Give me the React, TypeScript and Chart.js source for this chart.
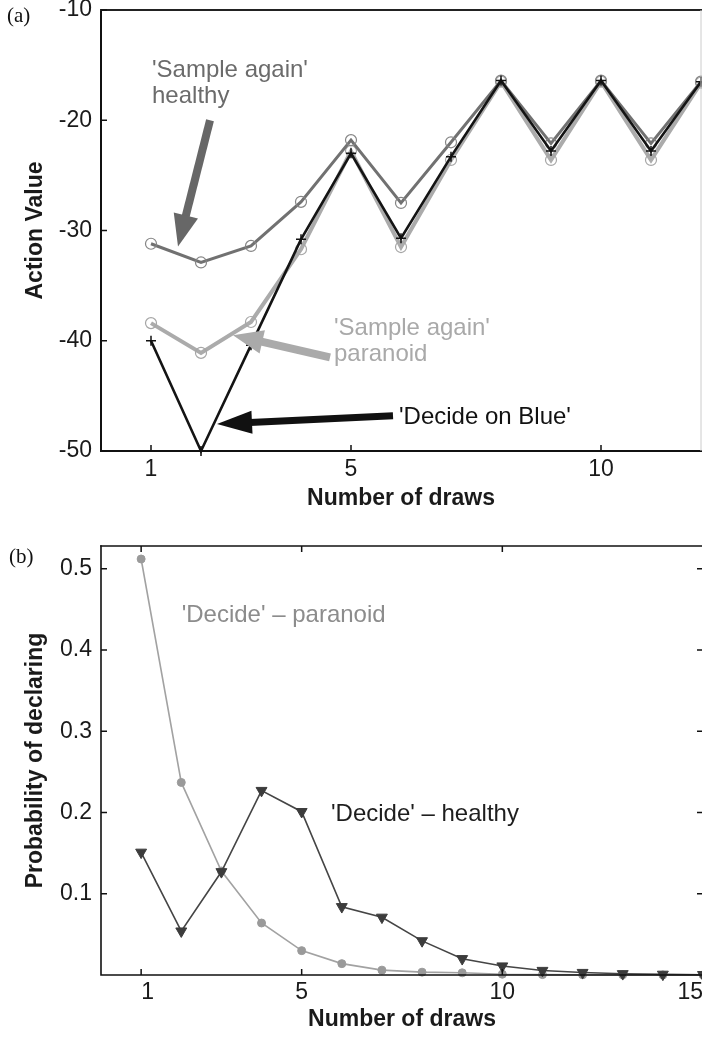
import React, { useEffect, useRef } from 'react';
import { Chart, registerables } from 'chart.js';

Chart.register(...registerables);

const FONT = '"Liberation Sans", Arial, Helvetica, sans-serif';

// ---------- Panel (a): action values ----------
const drawsA = [1, 2, 3, 4, 5, 6, 7, 8, 9, 10, 11, 12];
const sampleAgainHealthy = [-31.2, -32.9, -31.4, -27.4, -21.8, -27.5, -22.0, -16.4, -22.1, -16.4, -22.1, -16.5];
const sampleAgainParanoid = [-38.4, -41.1, -38.3, -31.7, -22.8, -31.5, -23.6, -16.5, -23.6, -16.5, -23.6, -16.6];
const decideOnBlue = [-40.0, -50.0, -40.4, -30.8, -23.0, -30.7, -23.3, -16.4, -22.8, -16.4, -22.8, -16.5];
const xTicksA = [1, 5, 10];
const yTicksA = [-10, -20, -30, -40, -50];

// ---------- Panel (b): probability of declaring ----------
const drawsB = [1, 2, 3, 4, 5, 6, 7, 8, 9, 10, 11, 12, 13, 14, 15];
const decideParanoid = [0.512, 0.237, 0.128, 0.064, 0.030, 0.014, 0.006, 0.0035, 0.0027, 0.001, 0.0005, 0.0003, 0.0002, 0.0001, 0.0001];
const decideHealthy = [0.151, 0.054, 0.127, 0.227, 0.201, 0.084, 0.071, 0.042, 0.020, 0.011, 0.0055, 0.003, 0.0015, 0.0008, 0.0004];
const xTicksB = [1, 5, 10, 15];
const yTicksB = [0.1, 0.2, 0.3, 0.4, 0.5];

// ---------- Annotations (data coordinates) ----------
type Txt = { lines: string[]; at: [number, number]; color: string };
type Arr = { from: [number, number]; to: [number, number]; color: string; width: number; head: number; headW: number };

const textsA: Txt[] = [
  { lines: ["'Sample again'", 'healthy'], at: [1.02, -16.1], color: '#6b6b6b' },
  { lines: ["'Sample again'", 'paranoid'], at: [4.66, -39.45], color: '#a9a9a9' },
  { lines: ["'Decide on Blue'"], at: [5.96, -47.55], color: '#111111' },
];
const arrowsA: Arr[] = [
  { from: [2.18, -20.0], to: [1.54, -31.45], color: '#676767', width: 8, head: 32, headW: 25 },
  { from: [4.58, -41.5], to: [2.64, -39.5], color: '#aaaaaa', width: 8, head: 30, headW: 24 },
  { from: [5.84, -46.8], to: [2.32, -47.55], color: '#111111', width: 7, head: 35, headW: 23 },
];
const textsB: Txt[] = [
  { lines: ["'Decide' \u2013 paranoid"], at: [2.01, 0.435], color: '#8c8c8c' },
  { lines: ["'Decide' \u2013 healthy"], at: [5.73, 0.189], color: '#1e1e1e' },
];

type FrameOpts = {
  xTicks: number[];
  yTicks: number[];
  topTicks: boolean;
  rightTicks: boolean;
  topColor: string;
  rightColor: string;
  rightWidth: number;
  lw: number;
  texts: Txt[];
  arrows: Arr[];
};

function framePlugin(o: FrameOpts) {
  return {
    id: 'frame',
    afterDatasetsDraw(chart: any) {
      const { ctx, chartArea: a, scales } = chart;
      const xs = scales.x;
      const ys = scales.y;
      ctx.save();
      // arrows
      for (const ar of o.arrows) {
        const x0 = xs.getPixelForValue(ar.from[0]);
        const y0 = ys.getPixelForValue(ar.from[1]);
        const x1 = xs.getPixelForValue(ar.to[0]);
        const y1 = ys.getPixelForValue(ar.to[1]);
        const dx = x1 - x0, dy = y1 - y0;
        const len = Math.hypot(dx, dy);
        const ux = dx / len, uy = dy / len;
        const bx = x1 - ux * ar.head, by = y1 - uy * ar.head;
        ctx.strokeStyle = ar.color;
        ctx.lineWidth = ar.width;
        ctx.lineCap = 'butt';
        ctx.beginPath();
        ctx.moveTo(x0, y0);
        ctx.lineTo(bx + ux * 2, by + uy * 2);
        ctx.stroke();
        ctx.fillStyle = ar.color;
        ctx.beginPath();
        ctx.moveTo(x1, y1);
        ctx.lineTo(bx - uy * ar.headW / 2, by + ux * ar.headW / 2);
        ctx.lineTo(bx + uy * ar.headW / 2, by - ux * ar.headW / 2);
        ctx.closePath();
        ctx.fill();
      }
      // texts
      ctx.font = `24px ${FONT}`;
      ctx.textAlign = 'left';
      ctx.textBaseline = 'alphabetic';
      for (const t of o.texts) {
        const tx = xs.getPixelForValue(t.at[0]);
        const ty = ys.getPixelForValue(t.at[1]);
        ctx.fillStyle = t.color;
        t.lines.forEach((ln, i) => ctx.fillText(ln, tx, ty + i * 26));
      }
      // frame
      ctx.lineCap = 'square';
      ctx.strokeStyle = '#111';
      ctx.lineWidth = o.lw;
      ctx.beginPath();
      ctx.moveTo(a.left, a.top);
      ctx.lineTo(a.left, a.bottom);
      ctx.lineTo(a.right + 2, a.bottom);
      ctx.stroke();
      ctx.strokeStyle = o.topColor;
      ctx.beginPath();
      ctx.moveTo(a.left, a.top);
      ctx.lineTo(a.right + 2, a.top);
      ctx.stroke();
      ctx.strokeStyle = o.rightColor;
      ctx.lineWidth = o.rightWidth;
      ctx.lineCap = 'butt';
      ctx.beginPath();
      ctx.moveTo(a.right, a.top);
      ctx.lineTo(a.right, a.bottom);
      ctx.stroke();
      // inward ticks
      ctx.strokeStyle = '#111';
      ctx.lineWidth = 1.5;
      const tl = 6;
      ctx.beginPath();
      for (const v of o.yTicks) {
        const py = ys.getPixelForValue(v);
        ctx.moveTo(a.left, py);
        ctx.lineTo(a.left + tl, py);
        if (o.rightTicks) {
          ctx.moveTo(a.right, py);
          ctx.lineTo(a.right - tl, py);
        }
      }
      for (const v of o.xTicks) {
        const px = xs.getPixelForValue(v);
        ctx.moveTo(px, a.bottom);
        ctx.lineTo(px, a.bottom - tl);
        if (o.topTicks) {
          ctx.moveTo(px, a.top);
          ctx.lineTo(px, a.top + tl);
        }
      }
      ctx.stroke();
      ctx.restore();
    },
  };
}

function fixedAxis(size: number, horizontal: boolean) {
  return (s: any) => {
    if (horizontal) s.height = size;
    else s.width = size;
    s.paddingTop = 0;
    s.paddingBottom = 0;
    s.paddingLeft = 0;
    s.paddingRight = 0;
  };
}

function setTicks(values: number[]) {
  return (s: any) => {
    s.ticks = values.map((v) => ({ value: v }));
  };
}

const tickFont = { family: FONT, size: 23 };
const titleFont = { family: FONT, size: 23, weight: 'bold' as const };

function buildA(canvas: HTMLCanvasElement) {
  const pts = (arr: number[]) => drawsA.map((x, i) => ({ x, y: arr[i] }));
  return new Chart(canvas, {
    type: 'line',
    data: {
      datasets: [
        {
          label: 'Decide on Blue',
          data: pts(decideOnBlue),
          borderColor: '#141414',
          borderWidth: 2.6,
          pointStyle: 'cross',
          pointRadius: 5,
          pointBorderColor: '#111',
          pointBorderWidth: 1.5,
          order: 1,
          clip: false as any,
        },
        {
          label: 'Sample again healthy',
          data: pts(sampleAgainHealthy),
          borderColor: '#717171',
          borderWidth: 3,
          pointStyle: 'circle',
          pointRadius: 5.5,
          pointBackgroundColor: 'rgba(0,0,0,0)',
          pointBorderColor: '#858585',
          pointBorderWidth: 1.2,
          order: 2,
          clip: false as any,
        },
        {
          label: 'Sample again paranoid',
          data: pts(sampleAgainParanoid),
          borderColor: '#ababab',
          borderWidth: 4,
          pointStyle: 'circle',
          pointRadius: 5.5,
          pointBackgroundColor: 'rgba(0,0,0,0)',
          pointBorderColor: '#a6a6a6',
          pointBorderWidth: 1.2,
          order: 3,
          clip: false as any,
        },
      ],
    },
    options: {
      responsive: false,
      animation: false,
      devicePixelRatio: 1,
      layout: { autoPadding: false, padding: { top: 10, right: 1, left: 0, bottom: 0 } },
      plugins: { legend: { display: false }, tooltip: { enabled: false } },
      elements: { line: { tension: 0 } },
      scales: {
        x: {
          type: 'linear',
          min: 0,
          max: 12,
          afterBuildTicks: setTicks(xTicksA),
          afterFit: fixedAxis(69, true),
          grid: { display: false, drawTicks: false },
          border: { display: false },
          ticks: { font: tickFont, color: '#1a1a1a', padding: 5, maxRotation: 0 },
          title: { display: true, text: 'Number of draws', font: titleFont, color: '#1a1a1a', padding: { top: 0, bottom: 8 } },
        },
        y: {
          type: 'linear',
          min: -50,
          max: -10,
          afterBuildTicks: setTicks(yTicksA),
          afterFit: fixedAxis(101, false),
          grid: { display: false, drawTicks: false },
          border: { display: false },
          ticks: { font: tickFont, color: '#1a1a1a', padding: 9 },
          title: { display: true, text: 'Action Value', font: titleFont, color: '#1a1a1a', padding: { top: 22, bottom: 0 } },
        },
      },
    },
    plugins: [
      framePlugin({
        xTicks: xTicksA,
        yTicks: yTicksA,
        topTicks: false,
        rightTicks: false,
        topColor: '#222',
        rightColor: '#cccccc',
        rightWidth: 1,
        lw: 2,
        texts: textsA,
        arrows: arrowsA,
      }),
    ],
  } as any);
}

function buildB(canvas: HTMLCanvasElement) {
  const pts = (arr: number[]) => drawsB.map((x, i) => ({ x, y: arr[i] }));
  return new Chart(canvas, {
    type: 'line',
    data: {
      datasets: [
        {
          label: "'Decide' – healthy",
          data: pts(decideHealthy),
          borderColor: '#454545',
          borderWidth: 1.6,
          pointStyle: 'triangle',
          rotation: 180,
          pointRadius: 6.3,
          pointBackgroundColor: '#3c3c3c',
          pointBorderColor: '#3c3c3c',
          pointBorderWidth: 1,
          order: 1,
          clip: false as any,
        },
        {
          label: "'Decide' – paranoid",
          data: pts(decideParanoid),
          borderColor: '#a2a2a2',
          borderWidth: 1.6,
          pointStyle: 'circle',
          pointRadius: 4,
          pointBackgroundColor: '#9a9a9a',
          pointBorderColor: '#9a9a9a',
          pointBorderWidth: 1,
          order: 2,
          clip: false as any,
        },
      ],
    },
    options: {
      responsive: false,
      animation: false,
      devicePixelRatio: 1,
      layout: { autoPadding: false, padding: { top: 26, right: 1, left: 0, bottom: 0 } },
      plugins: { legend: { display: false }, tooltip: { enabled: false } },
      elements: { line: { tension: 0 } },
      scales: {
        x: {
          type: 'linear',
          min: 0,
          max: 15,
          afterBuildTicks: setTicks(xTicksB),
          afterFit: fixedAxis(64, true),
          grid: { display: false, drawTicks: false },
          border: { display: false },
          ticks: { font: tickFont, color: '#1a1a1a', padding: 4, maxRotation: 0, align: 'inner' },
          title: { display: true, text: 'Number of draws', font: titleFont, color: '#1a1a1a', padding: { top: 0, bottom: 6 } },
        },
        y: {
          type: 'linear',
          min: 0,
          max: 0.528,
          afterBuildTicks: setTicks(yTicksB),
          afterFit: fixedAxis(101, false),
          grid: { display: false, drawTicks: false },
          border: { display: false },
          ticks: { font: tickFont, color: '#1a1a1a', padding: 9 },
          title: { display: true, text: 'Probability of declaring', font: titleFont, color: '#1a1a1a', padding: { top: 22, bottom: 0 } },
        },
      },
    },
    plugins: [
      framePlugin({
        xTicks: xTicksB,
        yTicks: yTicksB,
        topTicks: true,
        rightTicks: true,
        topColor: '#111',
        rightColor: '#111',
        rightWidth: 1.5,
        lw: 1.6,
        texts: textsB,
        arrows: [],
      }),
    ],
  } as any);
}

export default function App() {
  const refA = useRef<HTMLCanvasElement>(null);
  const refB = useRef<HTMLCanvasElement>(null);

  useEffect(() => {
    if (!refA.current || !refB.current) return;
    const a = buildA(refA.current);
    const b = buildB(refB.current);
    return () => {
      a.destroy();
      b.destroy();
    };
  }, []);

  const label: React.CSSProperties = {
    position: 'absolute',
    fontFamily: '"Liberation Serif", "Times New Roman", serif',
    fontSize: 21,
    lineHeight: '21px',
    color: '#111',
    margin: 0,
  };

  return (
    <div style={{ position: 'absolute', left: 0, top: 0, width: 702, height: 1039, overflow: 'hidden', background: '#fff' }}>
      <div style={{ position: 'absolute', left: 0, top: 0, width: 702, height: 520 }}>
        <canvas ref={refA} width={702} height={520} style={{ display: 'block', width: 702, height: 520 }} />
      </div>
      <div style={{ position: 'absolute', left: 0, top: 520, width: 704, height: 519 }}>
        <canvas ref={refB} width={704} height={519} style={{ display: 'block', width: 704, height: 519 }} />
      </div>
      <div style={{ ...label, left: 7, top: 5 }}>(a)</div>
      <div style={{ ...label, left: 9, top: 546 }}>(b)</div>
    </div>
  );
}
